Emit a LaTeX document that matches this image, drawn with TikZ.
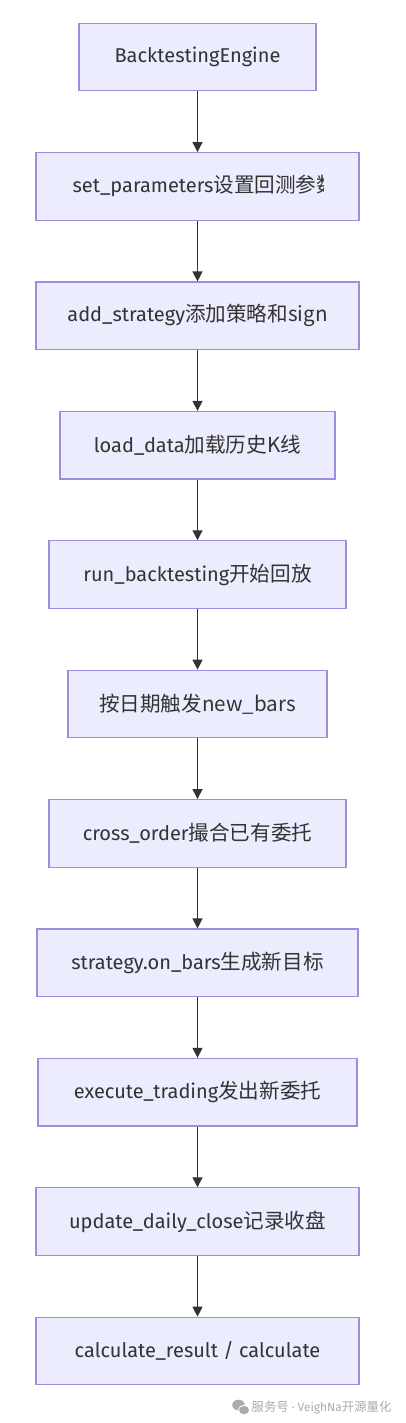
\documentclass[tikz,border=0pt]{standalone}
\usepackage{fontspec}
\setmainfont{Fira Sans}
\newfontfamily\cjk[Scale=1.03]{Noto Sans CJK SC}
\usetikzlibrary{arrows.meta}
\definecolor{boxfill}{HTML}{ECECFF}
\definecolor{boxline}{HTML}{A08BE0}
\definecolor{txt}{HTML}{333333}
\definecolor{wm}{HTML}{ABABAB}
\begin{document}
\begin{tikzpicture}[x=1pt,y=-1pt,
  box/.style={draw=boxline, fill=boxfill, line width=1.2pt, minimum height=67.5pt,
              inner sep=0pt, text=txt, font=\fontsize{20}{22}\selectfont},
  lbl/.style={anchor=west, inner sep=0pt, text=txt, font=\fontsize{20}{22}\selectfont},
  flow/.style={draw=txt, line width=1.2pt, -{Triangle[width=10pt,length=10pt]}}]
\useasboundingbox (0,0) rectangle (405,1423);
\fill[white] (0,0) rectangle (405,1423);

\node[box, minimum width=237pt] (b1)  at (197.5,57)     {BacktestingEngine};
\node[box, minimum width=323pt] (b2)  at (197.5,186.4)  {};
\node[box, minimum width=323pt] (b3)  at (197.5,315.8)  {add\_strategy\cjk{添加策略和}sign};
\node[box, minimum width=275pt] (b4)  at (197.5,445.2)  {load\_data\cjk{加载历史}K\cjk{线}};
\node[box, minimum width=297pt] (b5)  at (197.5,574.6)  {run\_backtesting\cjk{开始回放}};
\node[box, minimum width=259pt] (b6)  at (197.5,704)    {\cjk{按日期触发}new\_bars};
\node[box, minimum width=297pt] (b7)  at (197.5,833.4)  {cross\_order\cjk{撮合已有委托}};
\node[box, minimum width=321pt] (b8)  at (197.5,962.8)  {strategy.on\_bars\cjk{生成新目标}};
\node[box, minimum width=319pt] (b9)  at (197.5,1092.2) {execute\_trading\cjk{发出新委托}};
\node[box, minimum width=323pt] (b10) at (197.5,1221.6) {update\_daily\_close\cjk{记录收盘}};
\node[box, minimum width=323pt] (b11) at (197.5,1351)   {calculate\_result / calculate};

\begin{scope}
  \clip ([xshift=1pt]b2.south west) rectangle ([xshift=-36pt]b2.north east);
  \node[lbl] (t2) at ([xshift=37pt]b2.west) {set\_parameters\cjk{设置回测参数}};
\end{scope}

\foreach \a/\b in {b1/b2,b2/b3,b3/b4,b4/b5,b5/b6,b6/b7,b7/b8,b8/b9,b9/b10,b10/b11}
  \draw[flow] (\a.south) -- (\b.north);

% watermark
\fill[wm] (238.5,1405) ellipse (6.3pt and 5.3pt);
\fill[white] (244,1410) ellipse (6pt and 5pt);
\fill[wm] (244,1410) ellipse (5pt and 4.2pt);
\node[anchor=west, inner sep=0pt, text=wm, font=\fontsize{12}{14}\selectfont] (wmtext) at (251.5,1408)
  {{\cjk 服务号}\hspace{3pt}·\hspace{3pt}VeighNa{\cjk 开源量化}};
\end{tikzpicture}
\end{document}
